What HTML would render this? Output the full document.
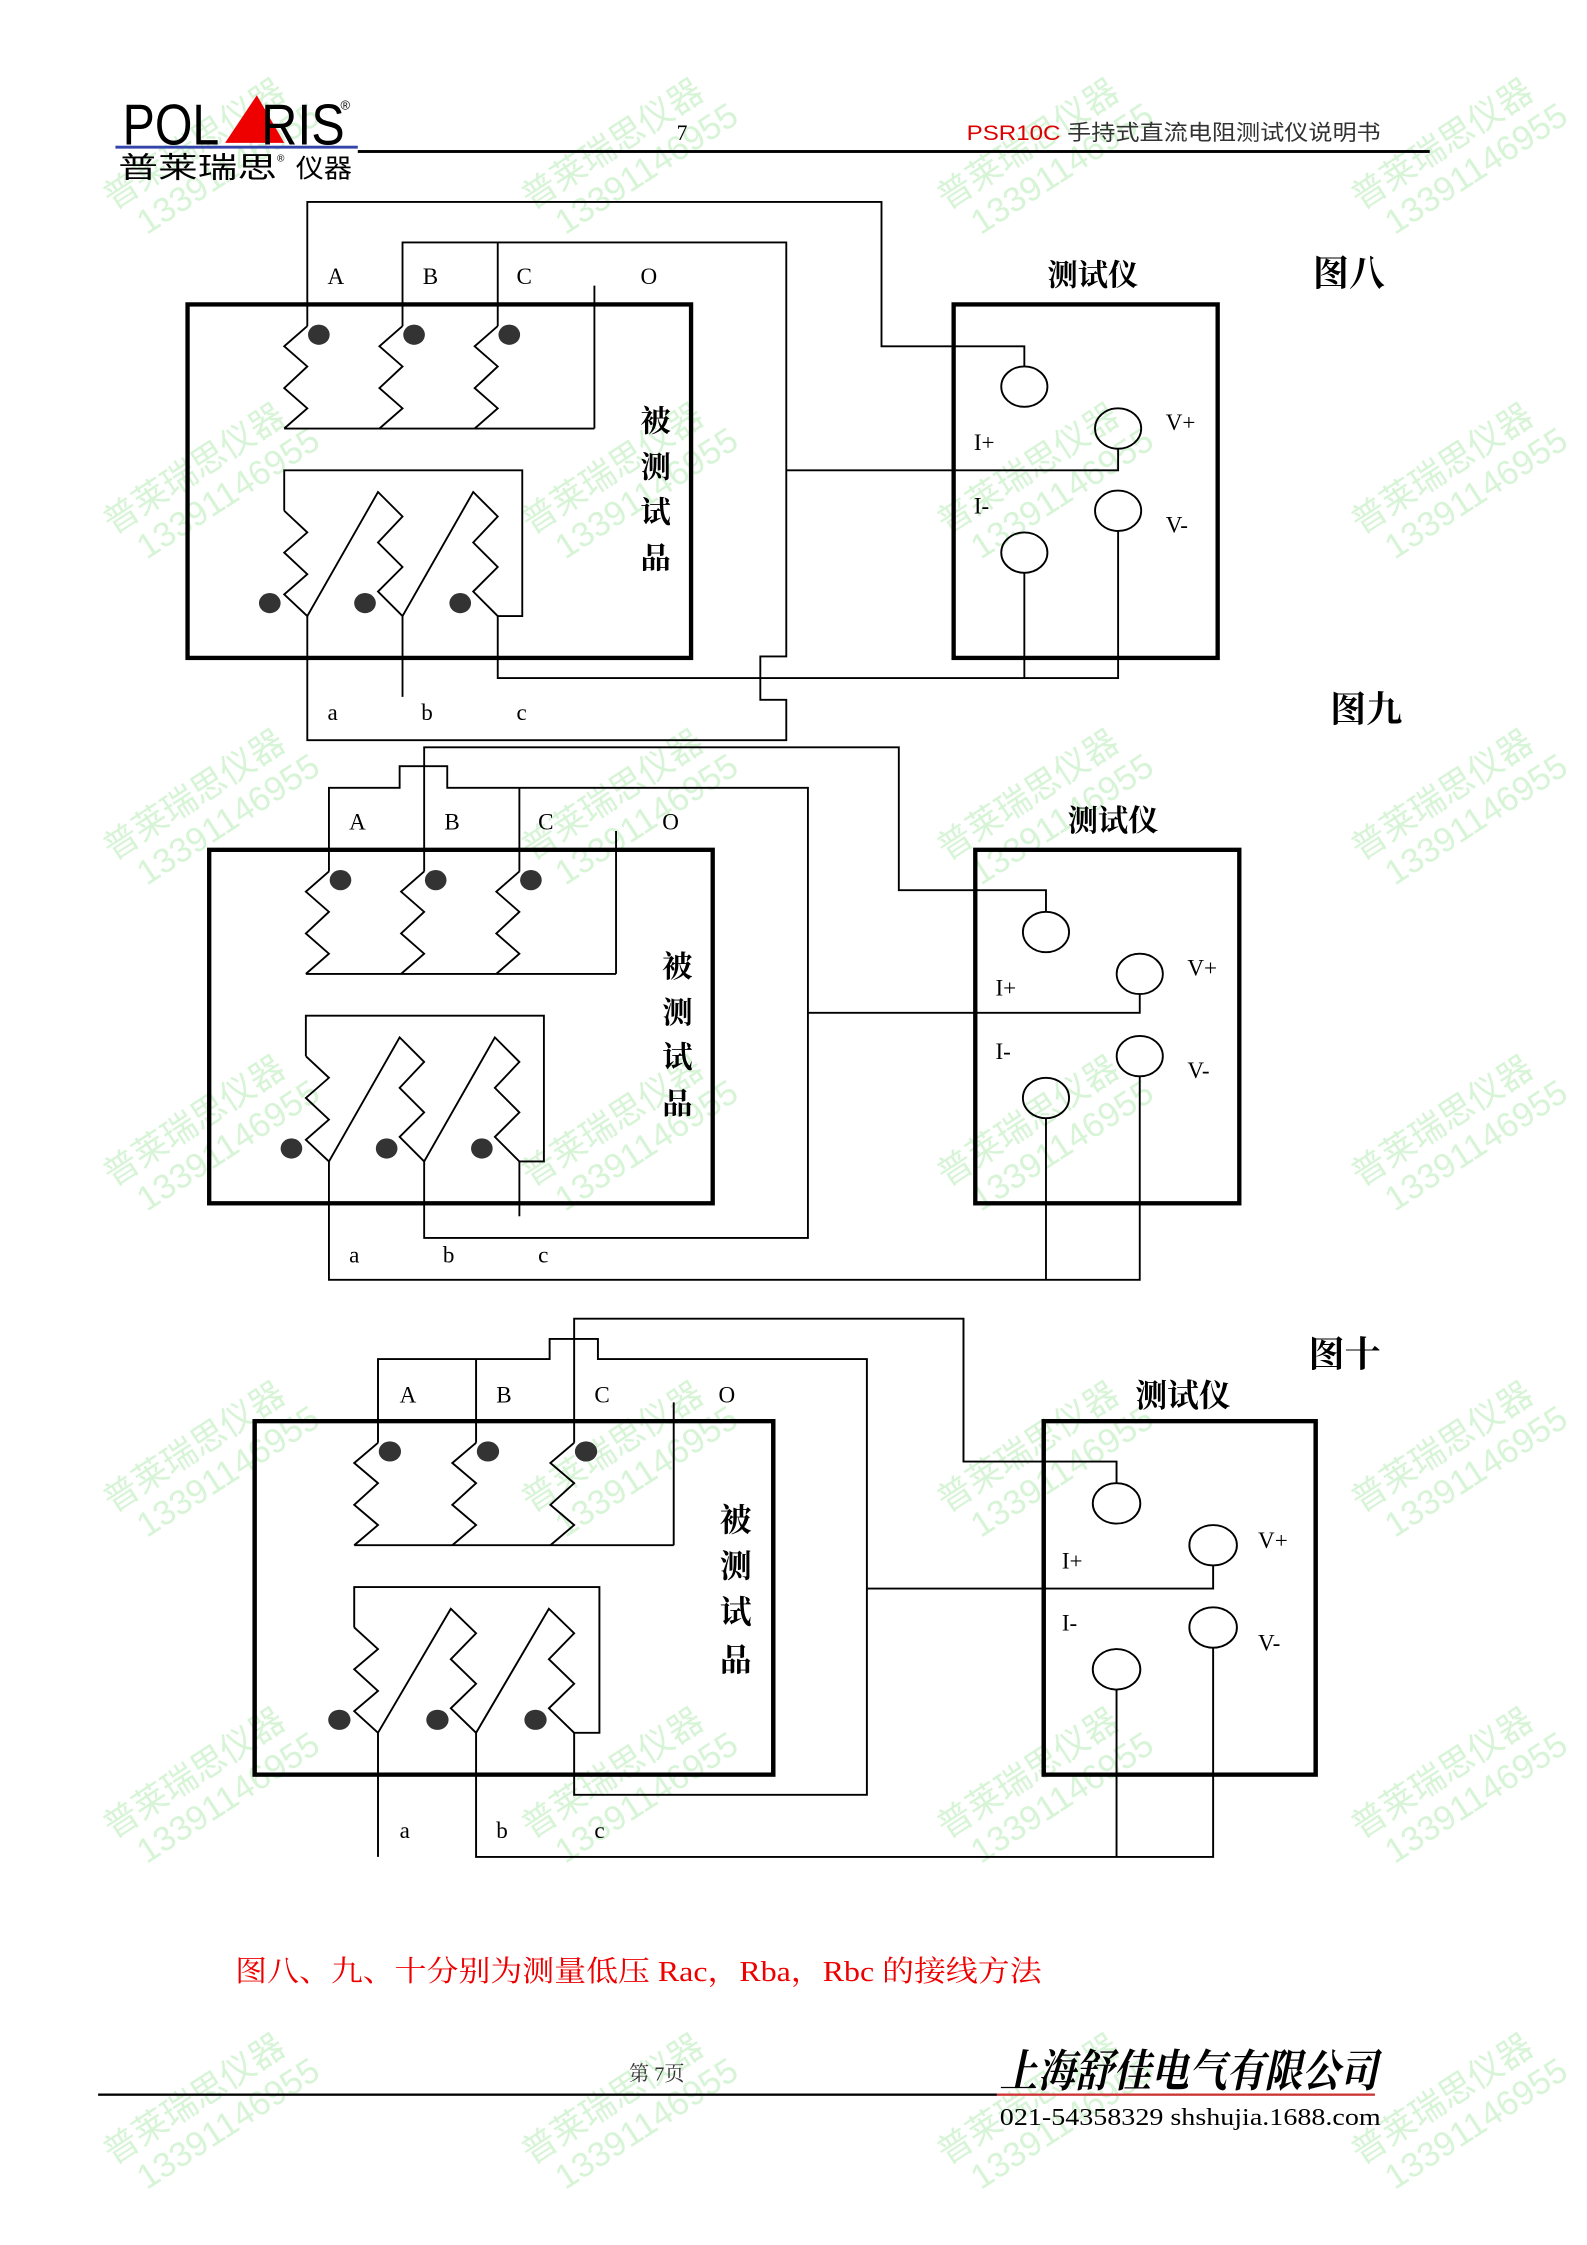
<!DOCTYPE html>
<html><head><meta charset="utf-8">
<style>
html,body{margin:0;padding:0;background:#fff;}
svg{display:block;}
.s{font-family:"Liberation Serif","Noto Serif CJK SC",serif;}
.h{font-family:"Liberation Sans","Noto Sans CJK SC",sans-serif;}
.wm{font-family:"Liberation Sans","Noto Sans CJK SC",sans-serif;fill:#b6ecb6;opacity:0.55;font-size:24px;}
</style></head>
<body>
<svg width="1587" height="2245" viewBox="0 0 1100 1556" preserveAspectRatio="none" xmlns="http://www.w3.org/2000/svg">
<defs>
<g id="comp" fill="none" stroke="#000">
  <rect x="130" y="211" width="349" height="245" stroke-width="3"/>
  <rect x="661" y="211" width="183" height="245" stroke-width="3"/>
  <g stroke-width="1.3">
    <ellipse cx="710" cy="268" rx="16" ry="14"/>
    <ellipse cx="775" cy="297" rx="16" ry="14"/>
    <ellipse cx="775" cy="354" rx="16" ry="14"/>
    <ellipse cx="710" cy="383" rx="16" ry="14"/>
    <polyline points="213,226 197,240 213,254 197,269 213,283 197,297"/>
    <polyline points="279,226 263,240 279,254 263,269 279,283 263,297"/>
    <polyline points="345,226 329,240 345,254 329,269 345,283 329,297"/>
    <line x1="197" y1="297" x2="412" y2="297"/>
    <line x1="412" y1="198" x2="412" y2="297"/>
    <polyline points="197,354 197,326 362,326 362,427 345,427"/>
    <polyline points="197,354 213,369 197,383 213,398 197,412 213,427 262,341 279,358 262,376 279,393 262,410 279,427 328,341 345,358 328,376 345,393 328,410 345,427"/>
  </g>
  <g fill="#333" stroke="none">
    <ellipse cx="221" cy="232" rx="7.5" ry="7"/>
    <ellipse cx="287" cy="232" rx="7.5" ry="7"/>
    <ellipse cx="353" cy="232" rx="7.5" ry="7"/>
    <ellipse cx="187" cy="418" rx="7.5" ry="7"/>
    <ellipse cx="253" cy="418" rx="7.5" ry="7"/>
    <ellipse cx="319" cy="418" rx="7.5" ry="7"/>
  </g>
</g>
</defs>

<!-- watermarks -->
<g class="wm">
  <g transform="translate(140,112) rotate(-33)"><text x="-70" y="-5">普莱瑞思仪器</text><text x="-60" y="22">13391146955</text></g>
  <g transform="translate(430,112) rotate(-33)"><text x="-70" y="-5">普莱瑞思仪器</text><text x="-60" y="22">13391146955</text></g>
  <g transform="translate(718,112) rotate(-33)"><text x="-70" y="-5">普莱瑞思仪器</text><text x="-60" y="22">13391146955</text></g>
  <g transform="translate(1005,112) rotate(-33)"><text x="-70" y="-5">普莱瑞思仪器</text><text x="-60" y="22">13391146955</text></g>
  <g transform="translate(140,337) rotate(-33)"><text x="-70" y="-5">普莱瑞思仪器</text><text x="-60" y="22">13391146955</text></g>
  <g transform="translate(430,337) rotate(-33)"><text x="-70" y="-5">普莱瑞思仪器</text><text x="-60" y="22">13391146955</text></g>
  <g transform="translate(718,337) rotate(-33)"><text x="-70" y="-5">普莱瑞思仪器</text><text x="-60" y="22">13391146955</text></g>
  <g transform="translate(1005,337) rotate(-33)"><text x="-70" y="-5">普莱瑞思仪器</text><text x="-60" y="22">13391146955</text></g>
  <g transform="translate(140,563) rotate(-33)"><text x="-70" y="-5">普莱瑞思仪器</text><text x="-60" y="22">13391146955</text></g>
  <g transform="translate(430,563) rotate(-33)"><text x="-70" y="-5">普莱瑞思仪器</text><text x="-60" y="22">13391146955</text></g>
  <g transform="translate(718,563) rotate(-33)"><text x="-70" y="-5">普莱瑞思仪器</text><text x="-60" y="22">13391146955</text></g>
  <g transform="translate(1005,563) rotate(-33)"><text x="-70" y="-5">普莱瑞思仪器</text><text x="-60" y="22">13391146955</text></g>
  <g transform="translate(140,789) rotate(-33)"><text x="-70" y="-5">普莱瑞思仪器</text><text x="-60" y="22">13391146955</text></g>
  <g transform="translate(430,789) rotate(-33)"><text x="-70" y="-5">普莱瑞思仪器</text><text x="-60" y="22">13391146955</text></g>
  <g transform="translate(718,789) rotate(-33)"><text x="-70" y="-5">普莱瑞思仪器</text><text x="-60" y="22">13391146955</text></g>
  <g transform="translate(1005,789) rotate(-33)"><text x="-70" y="-5">普莱瑞思仪器</text><text x="-60" y="22">13391146955</text></g>
  <g transform="translate(140,1015) rotate(-33)"><text x="-70" y="-5">普莱瑞思仪器</text><text x="-60" y="22">13391146955</text></g>
  <g transform="translate(430,1015) rotate(-33)"><text x="-70" y="-5">普莱瑞思仪器</text><text x="-60" y="22">13391146955</text></g>
  <g transform="translate(718,1015) rotate(-33)"><text x="-70" y="-5">普莱瑞思仪器</text><text x="-60" y="22">13391146955</text></g>
  <g transform="translate(1005,1015) rotate(-33)"><text x="-70" y="-5">普莱瑞思仪器</text><text x="-60" y="22">13391146955</text></g>
  <g transform="translate(140,1241) rotate(-33)"><text x="-70" y="-5">普莱瑞思仪器</text><text x="-60" y="22">13391146955</text></g>
  <g transform="translate(430,1241) rotate(-33)"><text x="-70" y="-5">普莱瑞思仪器</text><text x="-60" y="22">13391146955</text></g>
  <g transform="translate(718,1241) rotate(-33)"><text x="-70" y="-5">普莱瑞思仪器</text><text x="-60" y="22">13391146955</text></g>
  <g transform="translate(1005,1241) rotate(-33)"><text x="-70" y="-5">普莱瑞思仪器</text><text x="-60" y="22">13391146955</text></g>
  <g transform="translate(140,1467) rotate(-33)"><text x="-70" y="-5">普莱瑞思仪器</text><text x="-60" y="22">13391146955</text></g>
  <g transform="translate(430,1467) rotate(-33)"><text x="-70" y="-5">普莱瑞思仪器</text><text x="-60" y="22">13391146955</text></g>
  <g transform="translate(718,1467) rotate(-33)"><text x="-70" y="-5">普莱瑞思仪器</text><text x="-60" y="22">13391146955</text></g>
  <g transform="translate(1005,1467) rotate(-33)"><text x="-70" y="-5">普莱瑞思仪器</text><text x="-60" y="22">13391146955</text></g>
</g>

<!-- header -->
<text x="85" y="100" class="h" font-size="40" textLength="67" lengthAdjust="spacingAndGlyphs">POL</text>
<polygon points="156,99 178,66 197,99" fill="#e00"/>
<text x="181" y="100" class="h" font-size="40" textLength="58" lengthAdjust="spacingAndGlyphs">RIS</text>
<text x="236" y="76" class="h" font-size="9">®</text>
<rect x="80" y="101" width="168" height="2" fill="#3344aa"/>
<text x="82" y="123" class="h" font-size="20" textLength="110" lengthAdjust="spacingAndGlyphs">普莱瑞思</text>
<text x="192" y="112" class="h" font-size="7">®</text>
<text x="205" y="123" class="h" font-size="18" textLength="39" lengthAdjust="spacingAndGlyphs">仪器</text>
<rect x="248" y="104" width="743" height="2" fill="#000"/>
<text x="469" y="97" class="s" font-size="15">7</text>
<text x="670" y="97" class="h" font-size="15" textLength="287" lengthAdjust="spacingAndGlyphs"><tspan fill="#d00">PSR10C</tspan><tspan fill="#333"> 手持式直流电阻测试仪说明书</tspan></text>

<!-- ===== Figure 8 ===== -->
<use href="#comp"/>
<g fill="none" stroke="#000" stroke-width="1.3">
  <polyline points="213,226 213,140 611,140 611,240 710,240 710,254"/>
  <polyline points="279,226 279,168 545,168 545,455 527,455 527,485 545,485 545,513 213,513 213,427"/>
  <line x1="345" y1="168" x2="345" y2="226"/>
  <polyline points="545,326 775,326 775,311"/>
  <polyline points="279,427 279,483"/>
  <polyline points="345,427 345,470 775,470 775,368"/>
  <line x1="710" y1="397" x2="710" y2="470"/>
</g>
<g class="s" font-size="16">
  <text x="227" y="197">A</text><text x="293" y="197">B</text><text x="358" y="197">C</text><text x="444" y="197">O</text>
  <text x="227" y="499">a</text><text x="292" y="499">b</text><text x="358" y="499">c</text>
  <text x="675" y="312">I+</text><text x="675" y="356">I-</text>
  <text x="808" y="298">V+</text><text x="808" y="369">V-</text>
</g>
<g class="s" font-size="21" font-weight="bold">
  <text x="444" y="299">被</text><text x="444" y="331">测</text><text x="444" y="362">试</text><text x="444" y="394">品</text>
  <text x="726" y="198">测试仪</text>
</g>
<text x="910" y="198" class="s" font-size="25" font-weight="bold">图八</text>

<!-- ===== Figure 9 ===== -->
<g transform="translate(15,378)">
<use href="#comp"/>
<g fill="none" stroke="#000" stroke-width="1.3">
  <polyline points="279,226 279,140 608,140 608,239 710,239 710,254"/>
  <polyline points="213,226 213,168 262,168 262,153 295,153 295,168 545,168 545,480 279,480 279,427"/>
  <line x1="345" y1="168" x2="345" y2="226"/>
  <polyline points="545,324 775,324 775,311"/>
  <line x1="345" y1="427" x2="345" y2="465"/>
  <polyline points="213,427 213,509 775,509 775,368"/>
  <line x1="710" y1="397" x2="710" y2="509"/>
</g>
<g class="s" font-size="16">
  <text x="227" y="197">A</text><text x="293" y="197">B</text><text x="358" y="197">C</text><text x="444" y="197">O</text>
  <text x="227" y="497">a</text><text x="292" y="497">b</text><text x="358" y="497">c</text>
  <text x="675" y="312">I+</text><text x="675" y="356">I-</text>
  <text x="808" y="298">V+</text><text x="808" y="369">V-</text>
</g>
<g class="s" font-size="21" font-weight="bold">
  <text x="444" y="299">被</text><text x="444" y="331">测</text><text x="444" y="362">试</text><text x="444" y="394">品</text>
</g>
</g>
<text x="740" y="576" class="s" font-size="21" font-weight="bold">测试仪</text>
<text x="922" y="500" class="s" font-size="25" font-weight="bold">图九</text>

<!-- ===== Figure 10 ===== -->
<g transform="translate(262,774) scale(1.03,1) translate(-213,0)">
<use href="#comp"/>
<g fill="none" stroke="#000" stroke-width="1.3">
  <polyline points="345,226 345,140 607,140 607,239 710,239 710,254"/>
  <polyline points="213,226 213,168 328.5,168 328.5,154 361,154 361,168 542,168 542,470 345,470 345,427"/>
  <line x1="279" y1="168" x2="279" y2="226"/>
  <polyline points="542,327 775,327 775,311"/>
  <polyline points="279,427 279,513 775,513 775,368"/>
  <line x1="710" y1="397" x2="710" y2="513"/>
  <line x1="213" y1="427" x2="213" y2="513"/>
</g>
</g>
<g class="s" font-size="16">
  <text x="277" y="972">A</text><text x="344" y="972">B</text><text x="412" y="972">C</text><text x="498" y="972">O</text>
  <text x="277" y="1274">a</text><text x="344" y="1274">b</text><text x="412" y="1274">c</text>
  <text x="736" y="1087">I+</text><text x="736" y="1130">I-</text>
  <text x="872" y="1073">V+</text><text x="872" y="1144">V-</text>
</g>
<g class="s" font-size="22" font-weight="bold">
  <text x="499" y="1061">被</text><text x="499" y="1093">测</text><text x="499" y="1125">试</text><text x="499" y="1158">品</text>
  <text x="787" y="975">测试仪</text>
</g>
<text x="907" y="947" class="s" font-size="25" font-weight="bold">图十</text>

<!-- caption -->
<text x="163" y="1373" class="s" font-size="20" fill="#e00" textLength="559" lengthAdjust="spacingAndGlyphs">图八、九、十分别为测量低压 Rac，Rba，Rbc 的接线方法</text>

<!-- footer -->
<text x="436" y="1442" class="s" font-size="14" fill="#333">第 7页</text>
<rect x="68" y="1451" width="623" height="1.6" fill="#000"/>
<rect x="691" y="1451" width="262" height="1.6" fill="#c33"/>
<text x="693" y="1446" class="s" font-size="31" font-weight="bold" font-style="italic" textLength="262" lengthAdjust="spacingAndGlyphs">上海舒佳电气有限公司</text>
<text x="693" y="1473" class="s" font-size="17" textLength="264" lengthAdjust="spacingAndGlyphs">021-54358329 shshujia.1688.com</text>
</svg>
</body></html>
